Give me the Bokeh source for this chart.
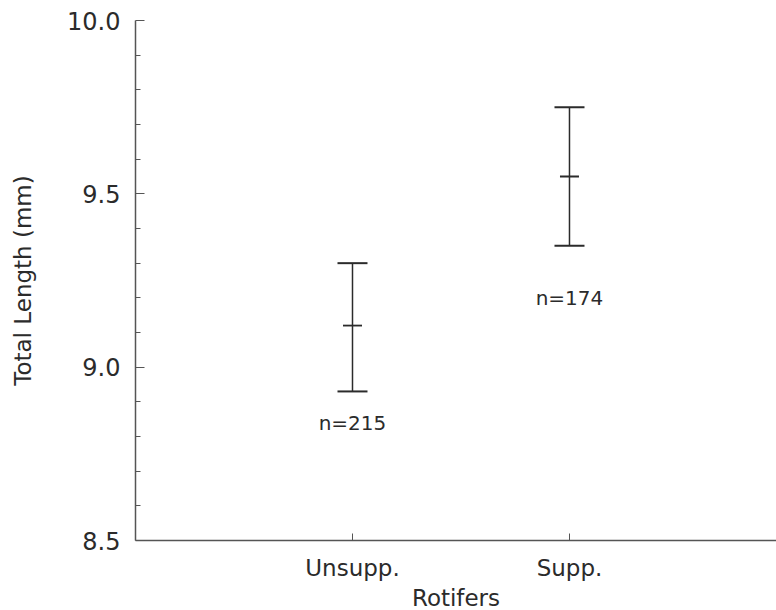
from bokeh.plotting import figure
from bokeh.models import (Range1d, FixedTicker, Whisker, TeeHead, ColumnDataSource,
                          LabelSet)
from bokeh.core.properties import value
from bokeh.embed import file_html
from bokeh.resources import INLINE

# Total length of larvae by rotifer treatment (mean with error range)
groups = ["Unsupp.", "Supp."]
group_pos = [1, 2]
mean_len = [9.12, 9.55]
upper_len = [9.30, 9.75]
lower_len = [8.93, 9.35]
n_labels = ["n=215", "n=174"]
n_label_y = [8.84, 9.20]

y_major = [8.5, 9.0, 9.5, 10.0]
y_minor = [8.6, 8.7, 8.8, 8.9, 9.1, 9.2, 9.3, 9.4, 9.6, 9.7, 9.8, 9.9]

FONT = "DejaVu Sans"
INK = "#2b2b2b"
AXIS = "#555555"

src = ColumnDataSource(dict(x=group_pos, mean=mean_len, upper=upper_len,
                            lower=lower_len, label=n_labels, ly=n_label_y))

p = figure(width=776, height=610, output_backend="svg", toolbar_location=None,
           x_range=Range1d(0, 2.954), y_range=Range1d(8.5, 10.0),
           min_border_left=135, min_border_right=0, min_border_top=20,
           min_border_bottom=0)
p.frame_width = 641
p.frame_height = 520
p.outline_line_color = None
p.grid.grid_line_color = None
p.background_fill_color = "white"
p.border_fill_color = "white"

# y axis
ya = p.yaxis[0]
ya.ticker = FixedTicker(ticks=y_major, minor_ticks=y_minor)
ya.major_label_overrides = {8.5: "8.5", 9.0: "9.0", 9.5: "9.5", 10.0: "10.0"}
ya.axis_label = "Total Length (mm)"
ya.axis_label_text_font = FONT
ya.axis_label_text_font_size = "23px"
ya.axis_label_text_font_style = "normal"
ya.axis_label_text_color = INK
ya.axis_label_standoff = 28
ya.major_label_text_font = FONT
ya.major_label_text_font_size = "24px"
ya.major_label_text_color = INK
ya.major_label_standoff = 15
ya.major_tick_in = 9
ya.major_tick_out = 0
ya.minor_tick_in = 5
ya.minor_tick_out = 0
ya.axis_line_color = AXIS
ya.major_tick_line_color = AXIS
ya.minor_tick_line_color = AXIS
ya.axis_line_width = 1.5

# x axis
xa = p.xaxis[0]
xa.ticker = FixedTicker(ticks=group_pos, minor_ticks=[])
xa.major_label_overrides = {pos: g for pos, g in zip(group_pos, groups)}
xa.axis_label = "Rotifers"
xa.axis_label_text_font = FONT
xa.axis_label_text_font_size = "23px"
xa.axis_label_text_font_style = "normal"
xa.axis_label_text_color = INK
xa.axis_label_standoff = 1
xa.major_label_text_font = FONT
xa.major_label_text_font_size = "23px"
xa.major_label_text_color = INK
xa.major_label_standoff = 14
xa.major_tick_in = 7
xa.major_tick_out = 0
xa.axis_line_color = AXIS
xa.major_tick_line_color = AXIS
xa.axis_line_width = 1.5

# error ranges with end caps
whisk = Whisker(source=src, base="x", upper="upper", lower="lower",
                line_color=INK, line_width=1.5,
                upper_head=TeeHead(size=30, line_color=INK, line_width=2),
                lower_head=TeeHead(size=30, line_color=INK, line_width=2))
p.add_layout(whisk)

# mean marks
p.scatter(x="x", y="mean", source=src, marker="dash", size=19,
          line_color=INK, line_width=1.8)

# sample size labels
labels = LabelSet(x="x", y="ly", text="label", source=src,
                  text_font=value(FONT), text_font_size=value("20px"),
                  text_color=INK, text_align="center", text_baseline="middle")
p.add_layout(labels)

open("out.html", "w").write(file_html(p, INLINE))
